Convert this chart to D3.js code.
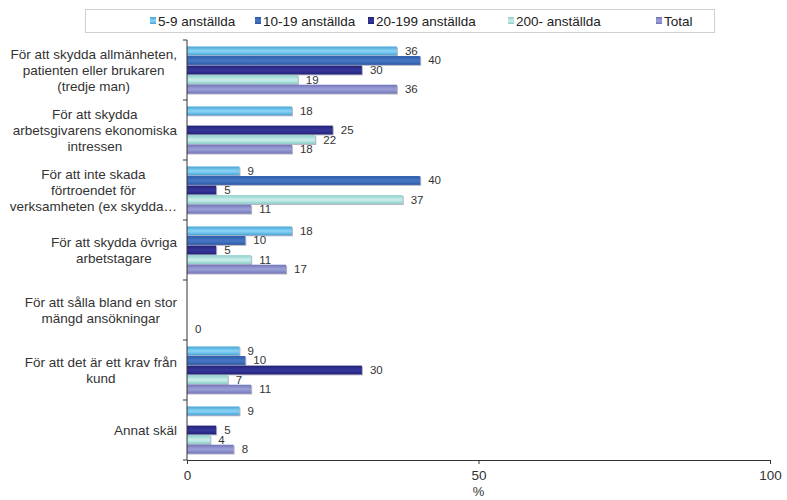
<!DOCTYPE html>
<html>
<head>
<meta charset="utf-8">
<script src="https://cdn.jsdelivr.net/npm/d3@7/dist/d3.min.js"></script>
<style>
  html, body { margin: 0; padding: 0; background: #fff; }
  svg { display: block; font-family: "Liberation Sans", Arial, sans-serif; }
</style>
</head>
<body>
<svg id="chart" width="787" height="500"></svg>
<script>
// Reasons (category axis), each label split into display lines
const categories = [
  ["För att skydda allmänheten,", "patienten eller brukaren", "(tredje man)"],
  ["För att skydda", "arbetsgivarens ekonomiska", "intressen"],
  ["För att inte skada", "förtroendet för", "verksamheten (ex skydda…"],
  ["För att skydda övriga", "arbetstagare"],
  ["För att sålla bland en stor", "mängd ansökningar"],
  ["För att det är ett krav från", "kund"],
  ["Annat skäl"]
];

const seriesNames = ["5-9 anställda", "10-19 anställda", "20-199 anställda", "200- anställda", "Total"];

// Percent per category, one array per series (null = no bar)
const values59    = [36, 18, 9, 18, null, 9, 9];
const values1019  = [40, null, 40, 10, null, 10, null];
const values20199 = [30, 25, 5, 5, null, 30, 5];
const values200   = [19, 22, 37, 11, null, 7, 4];
const valuesTotal = [36, 18, 11, 17, 0, 11, 8];

const xTicks = [0, 50, 100];
const xTitle = "%";

// Bar colours: [edge, centre highlight]
const colors = [
  ["#47a3d6", "#82cff2"],
  ["#2b58a6", "#4575c2"],
  ["#212178", "#353598"],
  ["#8ccfc9", "#c4ebe7"],
  ["#7175b9", "#989cd4"]
];

const seriesValues = [values59, values1019, values20199, values200, valuesTotal];

const svg = d3.select("#chart");
const plot = { left: 187, right: 770, top: 40, bottom: 460 };

const x = d3.scaleLinear().domain([0, 100]).range([plot.left, plot.right]);
const y = d3.scaleBand().domain(d3.range(categories.length)).range([plot.top, plot.bottom]);
const ySub = d3.scaleBand().domain(d3.range(seriesNames.length))
  .range([6.5, y.bandwidth() - 6.5]).paddingInner(0.08);

// Gradients giving each bar a lighter centre stripe
const defs = svg.append("defs");
colors.forEach((c, i) => {
  const g = defs.append("linearGradient").attr("id", "grad" + i)
    .attr("x1", 0).attr("y1", 0).attr("x2", 0).attr("y2", 1);
  g.append("stop").attr("offset", "0%").attr("stop-color", c[0]);
  g.append("stop").attr("offset", "45%").attr("stop-color", c[1]);
  g.append("stop").attr("offset", "60%").attr("stop-color", c[1]);
  g.append("stop").attr("offset", "100%").attr("stop-color", c[0]);
});

// Bars and value labels
seriesValues.forEach((vals, si) => {
  const data = vals.map((v, ci) => ({ v, ci })).filter(d => d.v !== null);
  const grp = svg.append("g");
  grp.selectAll("rect.shadow").data(data.filter(d => d.v > 0)).join("rect")
    .attr("x", x(0))
    .attr("y", d => y(d.ci) + ySub(si) + 1)
    .attr("width", d => x(d.v) - x(0) + 1)
    .attr("height", ySub.bandwidth())
    .attr("fill", "#b4b4c2");
  grp.selectAll("rect.bar").data(data.filter(d => d.v > 0)).join("rect")
    .attr("x", x(0))
    .attr("y", d => y(d.ci) + ySub(si))
    .attr("width", d => x(d.v) - x(0))
    .attr("height", ySub.bandwidth())
    .attr("fill", "url(#grad" + si + ")");
  grp.selectAll("text").data(data).join("text")
    .attr("x", d => x(d.v) + 8)
    .attr("y", d => y(d.ci) + ySub(si) + ySub.bandwidth() / 2)
    .attr("dy", "0.35em")
    .attr("font-size", 11.5)
    .attr("fill", "#333")
    .text(d => d.v);
});

// Category axis
const yAxis = svg.append("g");
yAxis.append("line")
  .attr("x1", plot.left).attr("x2", plot.left)
  .attr("y1", plot.top).attr("y2", plot.bottom)
  .attr("stroke", "#333");
yAxis.selectAll("line.tick").data(d3.range(categories.length + 1)).join("line")
  .attr("class", "tick")
  .attr("x1", plot.left - 4).attr("x2", plot.left)
  .attr("y1", i => plot.top + i * y.step()).attr("y2", i => plot.top + i * y.step())
  .attr("stroke", "#333");

// Category labels: each block right-aligned to the axis, lines centred within it
const labelRight = 177;
categories.forEach((lines, ci) => {
  const cy = y(ci) + y.bandwidth() / 2;
  const lh = 16;
  const t = svg.append("text")
    .attr("text-anchor", "middle")
    .attr("font-size", 13.5)
    .attr("fill", "#333");
  const spans = lines.map((ln, li) => t.append("tspan")
    .attr("y", cy + (li - (lines.length - 1) / 2) * lh)
    .attr("dy", "0.35em")
    .text(ln));
  const maxW = d3.max(spans, s => s.node().getComputedTextLength());
  spans.forEach(s => s.attr("x", labelRight - maxW / 2));
});

// Value axis
const xAxis = svg.append("g").attr("transform", `translate(0,${plot.bottom})`)
  .call(d3.axisBottom(x).tickValues(xTicks).tickSize(4).tickSizeOuter(0).tickPadding(6));
xAxis.select(".domain").attr("stroke", "#333");
xAxis.selectAll(".tick line").attr("stroke", "#333");
xAxis.selectAll(".tick text").attr("font-size", 13.5).attr("fill", "#333")
  .attr("font-family", "Liberation Sans, Arial, sans-serif");

svg.append("text")
  .attr("x", x(50)).attr("y", 496)
  .attr("text-anchor", "middle")
  .attr("font-size", 13).attr("fill", "#333")
  .text(xTitle);

// Legend
const legend = svg.append("g");
legend.append("rect")
  .attr("x", 85.5).attr("y", 9.5).attr("width", 629).attr("height", 23)
  .attr("fill", "#fff").attr("stroke", "#d0d0d0");
const legendX = [150, 255, 368, 508, 656];
seriesNames.forEach((name, i) => {
  legend.append("rect")
    .attr("x", legendX[i]).attr("y", 17)
    .attr("width", 6).attr("height", 7)
    .attr("fill", "url(#grad" + i + ")");
  legend.append("text")
    .attr("x", legendX[i] + 8).attr("y", 21)
    .attr("dy", "0.35em")
    .attr("font-size", 13.5).attr("fill", "#222")
    .text(name);
});
</script>
</body>
</html>
